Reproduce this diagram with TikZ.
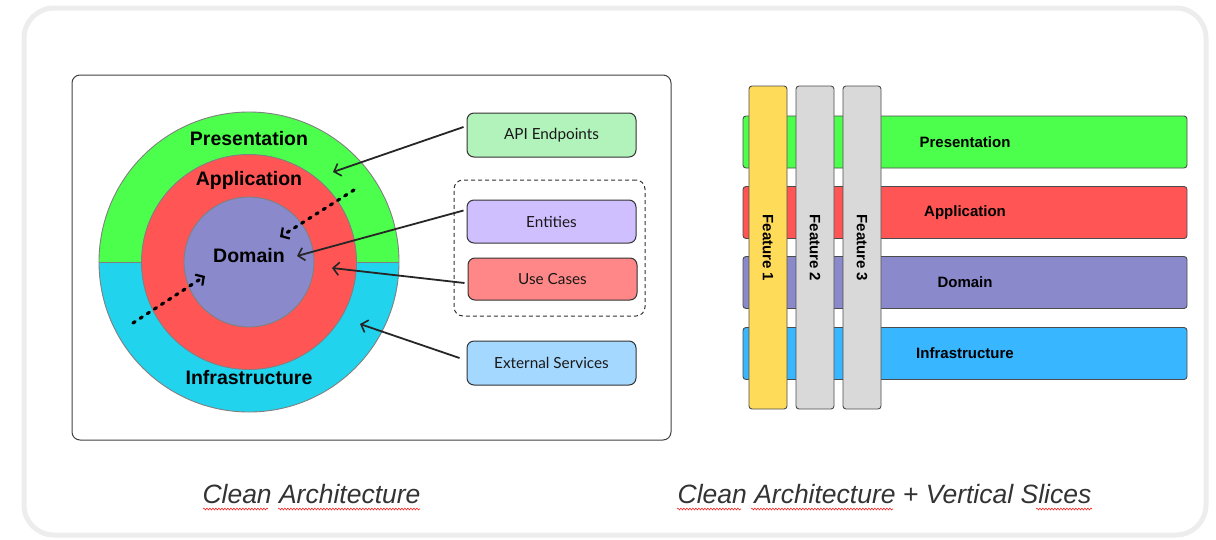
\documentclass[tikz,border=0pt]{standalone}
\usepackage{fontspec}
\setmainfont{Liberation Sans}
\newfontfamily\handfont{Lato}
\usetikzlibrary{arrows.meta,decorations.pathmorphing,calc}
\definecolor{cgreen}{HTML}{4CFF4C}
\definecolor{ccyan}{HTML}{22D3EE}
\definecolor{cred}{HTML}{FF5555}
\definecolor{cdom}{HTML}{8989CC}
\definecolor{cblue}{HTML}{38B6FF}
\definecolor{cyellow}{HTML}{FFDB5A}
\definecolor{cgray}{HTML}{D9D9D9}
\definecolor{capi}{HTML}{B2F2BB}
\definecolor{cent}{HTML}{D0BFFF}
\definecolor{cuse}{HTML}{FF8787}
\definecolor{cext}{HTML}{A5D8FF}
\definecolor{ctext}{HTML}{333333}
\tikzset{
  ringline/.style={draw=black!50, line width=0.9pt},
  lbl/.style={font=\bfseries\fontsize{19.5}{22}\selectfont, inner sep=0pt},
  sketchbox/.style={draw=black!80, line width=1pt, rounded corners=7pt, minimum width=169pt, minimum height=43pt, font=\handfont\fontsize{15.3}{17}\selectfont, text=black!90},
  arr/.style={draw=black!85, line width=1.8pt, -{Straight Barb[length=6pt,width=13pt,line width=1.6pt]}},
  dotarr/.style={draw=black, line width=3.2pt, line cap=round, dash pattern=on 2.5pt off 6pt, -{Straight Barb[length=6pt,width=13pt,line width=2.2pt]}},
  band/.style={draw=black!70, line width=0.9pt, rounded corners=3pt, minimum width=444pt, minimum height=52pt, inner sep=0pt},
  bandlbl/.style={font=\bfseries\fontsize{15}{17}\selectfont, inner sep=0pt},
  featbar/.style={draw=black!70, line width=0.9pt, rounded corners=3pt, minimum width=38pt, minimum height=323pt, inner sep=0pt},
  featlbl/.style={font=\bfseries\fontsize{15}{17}\selectfont, rotate=-90, inner sep=0pt},
  caption/.style={font=\itshape\fontsize{26.5}{29}\selectfont, text=ctext, inner sep=0pt},
  squiggle/.style={draw=red!85, line width=0.6pt, decorate, decoration={snake, amplitude=0.9pt, segment length=3pt}}
}
\begin{document}
\begin{tikzpicture}[x=1pt,y=-1pt]
\useasboundingbox (0,0) rectangle (1216,539);
% outer frame
\draw[line width=5pt, color=black!7, rounded corners=30pt] (24,8) rectangle (1206,535);
% left frame
\node[draw=black!75, line width=1pt, rounded corners=8pt, minimum width=599pt, minimum height=365pt, inner sep=0pt] (leftframe) at (371.5,257.5) {};
% rings
\coordinate (c) at (249,262);
\begin{scope}
  \clip (90,100) rectangle (410,262);
  \fill[cgreen] (c) circle (150);
\end{scope}
\begin{scope}
  \clip (90,262) rectangle (410,420);
  \fill[ccyan] (c) circle (150);
\end{scope}
\draw[ringline] (c) circle (150);
\draw[ringline] (99,262) -- (399,262);
\fill[cred] (c) circle (107.5);
\draw[ringline] (c) circle (107.5);
\node[circle, fill=cdom, ringline, minimum size=130pt, inner sep=0pt] (domain) at (c) {};
\node[lbl] (lpres) at (249,139) {Presentation};
\node[lbl] (lapp) at (249,180) {Application};
\node[lbl] (ldom) at (249,256) {Domain};
\node[lbl] (linf) at (249,378) {Infrastructure};
% dotted arrows
\coordinate (d1s) at (354,190);
\coordinate (d1e) at (280,237);
\coordinate (d2s) at (133,323);
\coordinate (d2e) at (205,276);
\draw[dotarr] (d1s) -- (d1e);
\draw[dotarr] (d2s) -- (d2e);
% right boxes
\node[draw=black!80, line width=1pt, dashed, dash pattern=on 4pt off 3pt, rounded corners=9pt, minimum width=191pt, minimum height=136pt, inner sep=0pt] (group) at (549.5,248) {};
\node[sketchbox, fill=capi, minimum height=44pt] (api) at (551.5,135) {API Endpoints};
\node[sketchbox, fill=cent] (ent) at (551.5,221.5) {Entities};
\node[sketchbox, fill=cuse, minimum height=42pt] (use) at (552.5,279) {Use Cases};
\node[sketchbox, fill=cext, minimum height=44pt] (ext) at (551.5,363) {External Services};
% arrows
\coordinate (a1) at (333,172);
\coordinate (a2) at (297,256);
\coordinate (a3) at (332,268);
\coordinate (a4) at (360,324);
\draw[arr] ($(api.west)+(-3,-8)$) -- (a1);
\draw[arr] ($(ent.west)+(-3,-11)$) -- (a2);
\draw[arr] ($(use.west)+(-3,4)$) -- (a3);
\draw[arr] ($(ext.west)+(-7,-5)$) -- (a4);
% right panel: bands
\node[band, fill=cgreen] (bpres) at (965,142) {};
\node[band, fill=cred] (bapp) at (965,212.5) {};
\node[band, fill=cdom] (bdom) at (965,282.5) {};
\node[band, fill=cblue] (binf) at (965,353.5) {};
\node[bandlbl] (tpres) at (965,142) {Presentation};
\node[bandlbl] (tapp) at (965,212.5) {Application};
\node[bandlbl] (tdom) at (965,282.5) {Domain};
\node[bandlbl] (tinf) at (965,353.5) {Infrastructure};
% feature bars
\node[featbar, fill=cyellow] (f1) at (768,247.5) {};
\node[featbar, fill=cgray] (f2) at (815,247.5) {};
\node[featbar, fill=cgray] (f3) at (862,247.5) {};
\node[featlbl] (tf1) at (768,248) {Feature 1};
\node[featlbl] (tf2) at (815,248) {Feature 2};
\node[featlbl] (tf3) at (862,248) {Feature 3};
% captions
\node[caption] (cap1) at (311.5,494) {Clean Architecture};
\node[caption] (cap2) at (884.5,494) {Clean Architecture + Vertical Slices};
\draw[squiggle] (203,509) -- (268,509);
\draw[squiggle] (278,509) -- (420,509);
\draw[squiggle] (677,509) -- (741,509);
\draw[squiggle] (751,509) -- (893,509);
\draw[squiggle] (1036,509) -- (1092,509);
\end{tikzpicture}
\end{document}
